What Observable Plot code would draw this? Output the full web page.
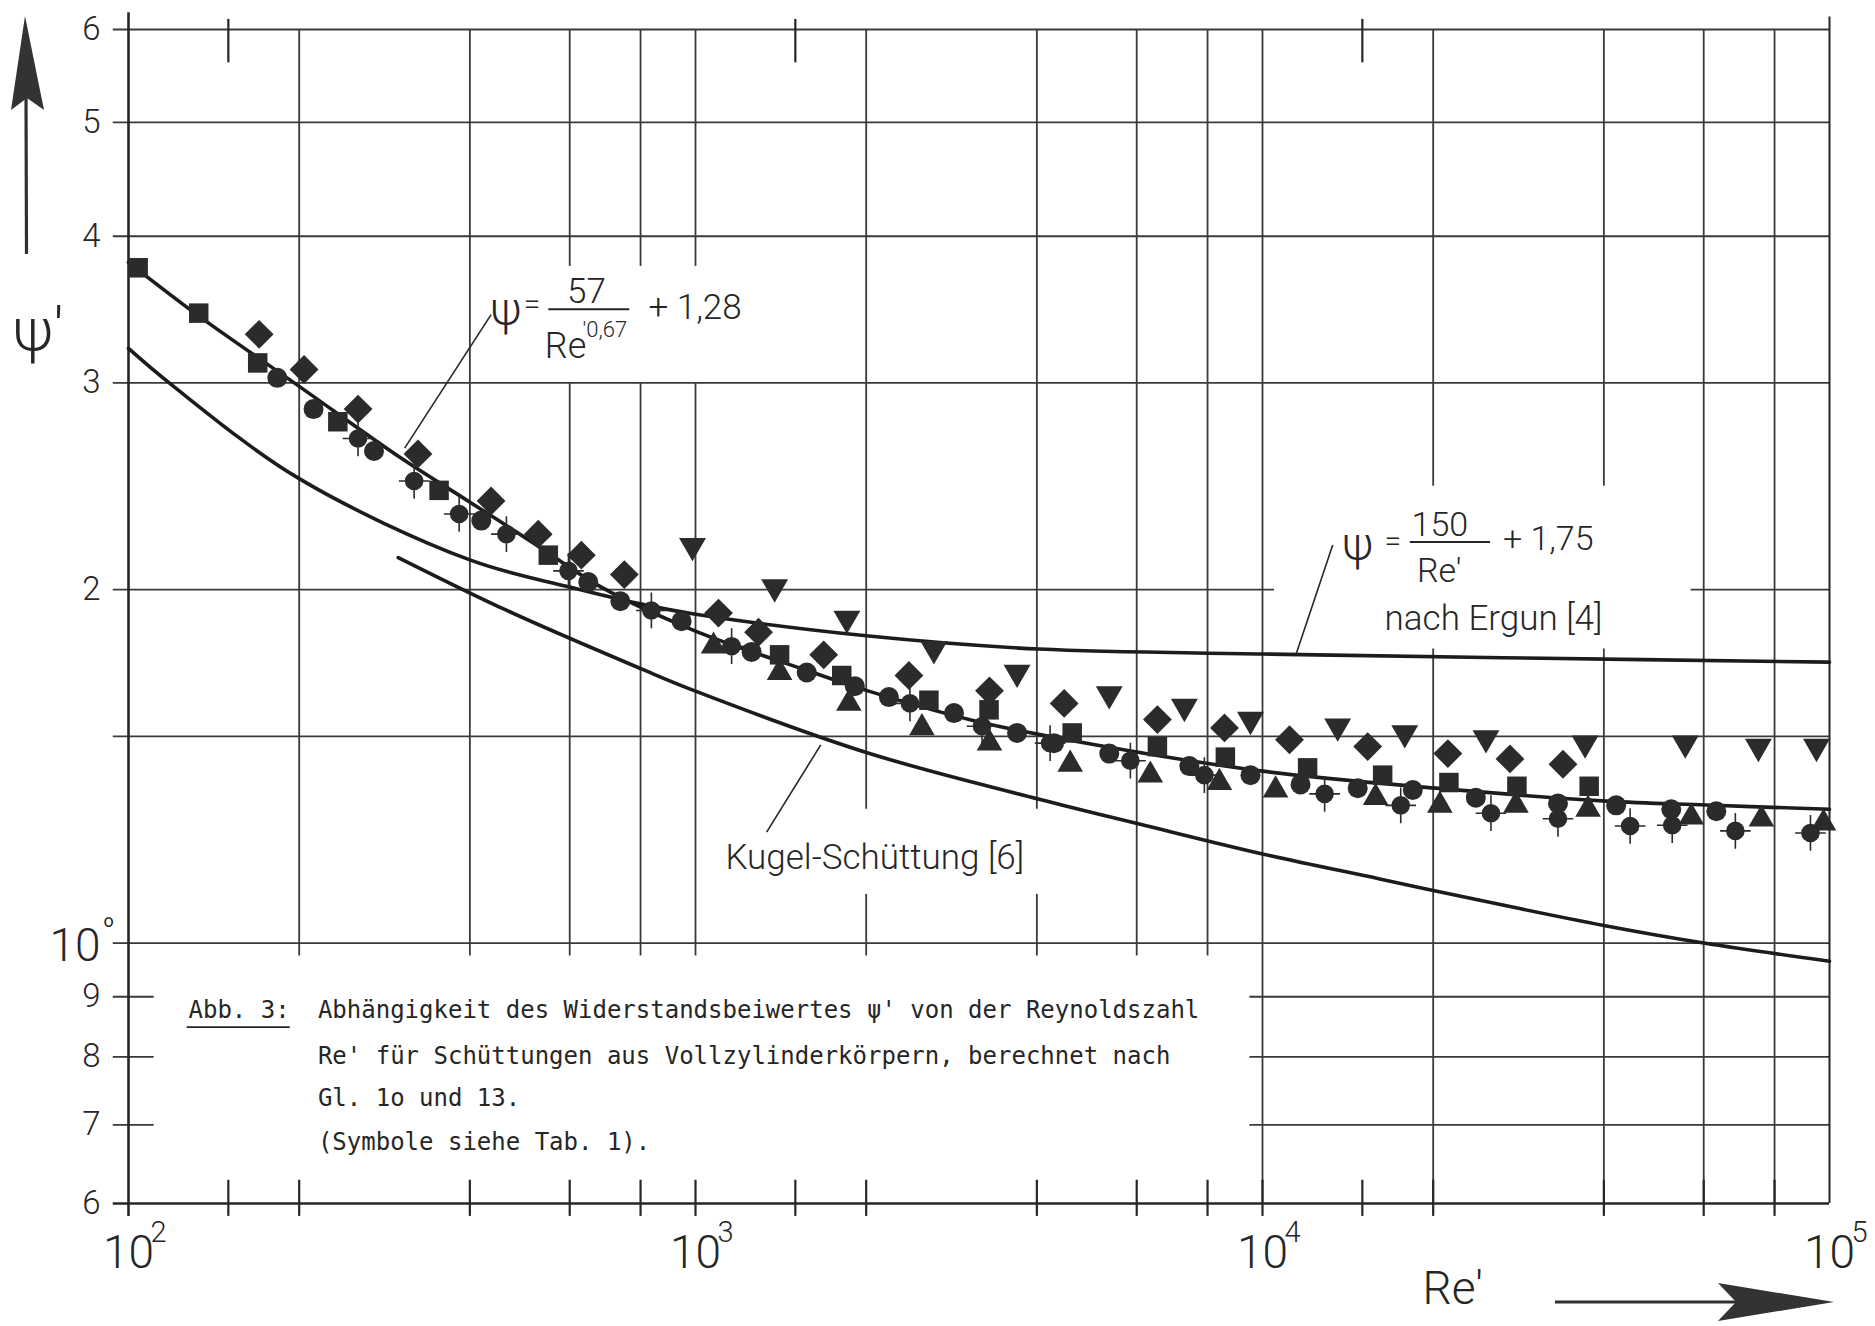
<!DOCTYPE html>
<html>
<head>
<meta charset="utf-8">
<script src="https://cdn.jsdelivr.net/npm/d3@7"></script>
<script src="https://cdn.jsdelivr.net/npm/@observablehq/plot@0.6"></script>
<style>
  html, body { margin: 0; padding: 0; background: #fff; }
  #chart { width: 1875px; height: 1326px; overflow: hidden; }
</style>
</head>
<body>
<div id="chart"></div>
<script>
// ---------------- data: [Re', psi'] ----------------
const squares = [[104,3.76],[133,3.44],[169,3.12],[234,2.78],[353,2.43],[550,2.14],[1407,1.76],[1811,1.69],[2580,1.61],[3294,1.58],[4617,1.51],[6526,1.47],[8600,1.44],[12010,1.41],[16290,1.39],[21320,1.37],[28100,1.36],[37680,1.36]];
const diamonds = [[170,3.30],[204,3.08],[254,2.85],[324,2.61],[436,2.38],[528,2.23],[629,2.14],[749,2.06],[1098,1.91],[1292,1.84],[1683,1.76],[2379,1.69],[3300,1.64],[4469,1.60],[6526,1.55],[8569,1.525],[11160,1.49],[15330,1.47],[21230,1.45],[27320,1.435],[33880,1.42]];
const trianglesDown = [[988,2.18],[1379,2.01],[1849,1.89],[2633,1.78],[3691,1.70],[5367,1.63],[7282,1.59],[9524,1.55],[13570,1.53],[17820,1.51],[24780,1.495],[37060,1.48],[55670,1.48],[74920,1.47],[94850,1.47]];
const trianglesUp = [[1076,1.79],[1407,1.70],[1864,1.60],[2508,1.525],[3300,1.48],[4580,1.42],[6341,1.39],[8395,1.37],[10545,1.35],[15830,1.33],[20550,1.31],[27990,1.31],[37510,1.30],[57050,1.28],[75840,1.275],[97590,1.265]];
const circles = [[183,3.03],[212,2.85],[271,2.625],[419,2.29],[647,2.03],[737,1.955],[945,1.88],[1256,1.77],[1571,1.70],[1910,1.655],[2193,1.62],[2857,1.57],[3691,1.51],[4290,1.48],[5367,1.45],[7430,1.415],[9524,1.39],[11670,1.365],[14720,1.355],[18410,1.35],[23780,1.33],[33200,1.315],[42050,1.31],[52590,1.30],[63160,1.295]];
const crossedCircles = [[254,2.69],[319,2.475],[383,2.32],[464,2.23],[597,2.075],[836,1.92],[1158,1.79],[2389,1.60],[3201,1.53],[4221,1.48],[5847,1.43],[7897,1.39],[12870,1.34],[17530,1.31],[25290,1.29],[33200,1.276],[44500,1.258],[52800,1.26],[68230,1.246],[92560,1.241]];

// curves as drawn in the figure
const fitCurve = [[100,3.80],[132,3.43],[198,2.99],[302,2.59],[397,2.38],[519,2.19],[682,2.01],[1000,1.844],[1583,1.705],[2021,1.639],[3111,1.546],[5007,1.477],[10000,1.401],[20220,1.355],[40360,1.321],[60640,1.311],[100000,1.30]];
const ergunCurve = [[100,3.21],[119,2.99],[199,2.49],[400,2.12],[600,2.01],[803,1.944],[1000,1.906],[2021,1.826],[4036,1.78],[10000,1.763],[26540,1.75],[100000,1.735]];
const kugelCurve = [[299,2.13],[467,1.918],[803,1.712],[1000,1.639],[2021,1.451],[4036,1.326],[6064,1.263],[10000,1.191],[16100,1.134],[23600,1.09],[40000,1.035],[60000,1.0],[100000,0.965]];

// axis ticks / labels
const yGridFull = [6, 5, 4, 3, 1.5, 1];
const yMinor = [0.9, 0.8, 0.7];
const yTickValues = [6, 5, 4, 3, 2, 0.9, 0.8, 0.7, 0.6];
const yTickLabels = ["6", "5", "4", "3", "2", "9", "8", "7", "6"];
const xDecades = [100, 1000, 10000, 100000];
const xExponents = ["2", "3", "4", "5"];
const bottomTicks = [150, 200, 400, 600, 800, 1000, 1500, 2000, 4000, 6000, 8000, 10000, 15000, 20000, 40000, 60000, 80000];
const topTicks = [150, 1500, 15000];
// vertical grid segments [Re, psiLow, psiHigh]
const vGrid = [[200,0.975,6],[400,0.975,6],[600,0.975,3.0],[600,3.77,6],[800,0.975,3.0],[800,3.77,6],[1000,0.975,3.0],[1000,3.77,6],
  [2000,1.3,6],[4000,1.3,6],[2000,0.975,1.1],[4000,0.975,1.1],[6000,0.975,6],[8000,0.975,6],
  [10000,0.6,6],[20000,0.6,1.78],[20000,2.45,6],[40000,0.6,1.78],[40000,2.45,6],[60000,0.6,6],[80000,0.6,6]];

const captionLines = [
  "Abhängigkeit des Widerstandsbeiwertes ψ' von der Reynoldszahl",
  "Re' für Schüttungen aus Vollzylinderkörpern, berechnet nach",
  "Gl. 1o und 13.",
  "(Symbole siehe Tab. 1)."
];
const captionPsi = [0.877, 0.801, 0.738, 0.677];

// ---------------- layout ----------------
const W = 1875, H = 1326;
const ink = "#262626";
const gridInk = "#3a3a3a";
const sans = "Roboto, 'DejaVu Sans', sans-serif";
const mono = "'DejaVu Sans Mono', 'Liberation Mono', monospace";

const pts = arr => arr.map(([re, psi]) => ({re, psi}));
const sqrt3 = Math.sqrt(3);
const triangleDown = {
  draw(ctx, size) {
    const y = Math.sqrt(size / (sqrt3 * 3));
    ctx.moveTo(0, 2 * y);
    ctx.lineTo(sqrt3 * y, -y);
    ctx.lineTo(-sqrt3 * y, -y);
    ctx.closePath();
  }
};
const crossCircle = {
  draw(ctx, size) {
    const r = Math.sqrt(size / Math.PI);
    ctx.moveTo(r, 0);
    ctx.arc(0, 0, r, 0, 2 * Math.PI);
    ctx.closePath();
    ctx.moveTo(-1.8 * r, 0); ctx.lineTo(1.8 * r, 0);
    ctx.moveTo(0, -2.1 * r); ctx.lineTo(0, 2.1 * r);
  }
};

const vSeg = vGrid.map(([re, lo, hi]) => ({re, lo, hi}));
const yLabels = yTickValues.map((psi, i) => ({psi, label: yTickLabels[i]}));
const xLabels = xDecades.map((re, i) => ({re, exp: xExponents[i]}));
const caption = captionLines.map((t, i) => ({t, psi: captionPsi[i]}));

const formulaMid = [
  {re: 463, psi: 3.46, t: "ψ", s: 46},
  {re: 515, psi: 3.50, t: "=", s: 30},
  {re: 642, psi: 3.585, t: "57", s: 35},
  {re: 590, psi: 3.22, t: "Re", s: 36},
  {re: 14720, psi: 2.18, t: "ψ", s: 46},
  {re: 16970, psi: 2.20, t: "=", s: 30},
  {re: 20550, psi: 2.27, t: "150", s: 34},
  {re: 20500, psi: 2.075, t: "Re′", s: 34}
];
const formulaStart = [
  {re: 632, psi: 3.33, t: "′0,67", s: 22},
  {re: 826, psi: 3.475, t: "+ 1,28", s: 35},
  {re: 26550, psi: 2.21, t: "+ 1,75", s: 34},
  {re: 16420, psi: 1.888, t: "nach Ergun [4]", s: 35},
  {re: 1129, psi: 1.181, t: "Kugel-Schüttung [6]", s: 35}
];
const links = [
  {x1: 436, y1: 3.43, x2: 307, y2: 2.64, w: 1.6},
  {x1: 13300, y1: 2.183, x2: 11480, y2: 1.766, w: 1.6},
  {x1: 1663, y1: 1.475, x2: 1335, y2: 1.243, w: 1.6},
  {x1: 550, y1: 3.467, x2: 764, y2: 3.467, w: 2},
  {x1: 18190, y1: 2.196, x2: 25190, y2: 2.196, w: 2},
  {x1: 126.6, y1: 0.848, x2: 192.5, y2: 0.848, w: 1.6}
];

const dotBase = {x: "re", y: "psi", fill: "#2b2b2b"};
const textBase = {lineAnchor: "middle", fontFamily: sans, fontWeight: 300, fill: ink};

const chart = Plot.plot({
  width: W, height: H,
  marginLeft: 128, marginRight: 46, marginTop: 29, marginBottom: 123,
  x: {type: "log", domain: [100, 1e5], axis: null},
  y: {type: "log", domain: [0.6, 6], axis: null},
  style: {background: "white", color: ink, overflow: "visible"},
  marks: [
    // grid
    Plot.ruleY(yGridFull, {x1: () => 94, x2: () => 1e5, stroke: gridInk, strokeWidth: 1.8}),
    Plot.ruleY([2], {x1: () => 94, x2: () => 10500, stroke: gridInk, strokeWidth: 1.8}),
    Plot.ruleY([2], {x1: () => 57000, x2: () => 1e5, stroke: gridInk, strokeWidth: 1.8}),
    Plot.ruleY(yMinor, {x1: () => 94, x2: () => 111, stroke: gridInk, strokeWidth: 1.8}),
    Plot.ruleY(yMinor, {x1: () => 9500, x2: () => 1e5, stroke: gridInk, strokeWidth: 1.8}),
    Plot.ruleY([0.6], {x1: () => 94, x2: () => 1e5, stroke: ink, strokeWidth: 2.4}),
    Plot.ruleX(vSeg, {x: "re", y1: "lo", y2: "hi", stroke: gridInk, strokeWidth: 1.8}),
    Plot.ruleX(bottomTicks, {y1: () => 0.585, y2: () => 0.628, stroke: ink, strokeWidth: 2.2}),
    Plot.ruleX(topTicks, {y1: () => 5.62, y2: () => 6.12, stroke: ink, strokeWidth: 2.2}),
    Plot.ruleX([100], {y1: () => 0.585, y2: () => 6.2, stroke: ink, strokeWidth: 2.6}),
    Plot.ruleX([1e5], {y1: () => 0.6, y2: () => 6.15, stroke: ink, strokeWidth: 2}),
    // curves
    Plot.line(pts(ergunCurve), {x: "re", y: "psi", curve: "catmull-rom", stroke: "#1c1c1c", strokeWidth: 3.6}),
    Plot.line(pts(kugelCurve), {x: "re", y: "psi", curve: "catmull-rom", stroke: "#1c1c1c", strokeWidth: 3.6}),
    Plot.line(pts(fitCurve), {x: "re", y: "psi", curve: "catmull-rom", stroke: "#1c1c1c", strokeWidth: 3.6}),
    // annotation lines
    Plot.link(links, {x1: "x1", y1: "y1", x2: "x2", y2: "y2", stroke: ink, strokeWidth: "w"}),
    // data points
    Plot.dot(pts(squares), {...dotBase, symbol: "square", r: 11}),
    Plot.dot(pts(diamonds), {...dotBase, symbol: "diamond2", r: 13}),
    Plot.dot(pts(circles), {...dotBase, symbol: "circle", r: 10}),
    Plot.dot(pts(trianglesUp), {...dotBase, symbol: "triangle", r: 9.5}),
    Plot.dot(pts(trianglesDown), {...dotBase, symbol: triangleDown, r: 10}),
    Plot.dot(pts(crossedCircles), {...dotBase, symbol: crossCircle, r: 8.5, stroke: "#2b2b2b", strokeWidth: 1.6}),
    // y tick labels
    Plot.text(yLabels, {...textBase, x: () => 100, y: "psi", text: "label", dx: -28, textAnchor: "end", fontSize: 33}),
    Plot.text([{psi: 1}], {...textBase, x: () => 100, y: "psi", text: () => "10", dx: -28, dy: 3, textAnchor: "end", fontSize: 46}),
    Plot.text([{psi: 1}], {...textBase, x: () => 100, y: "psi", text: () => "o", dx: -20, dy: -22, textAnchor: "middle", fontSize: 18, fontWeight: 400}),
    // x tick labels
    Plot.text(xLabels, {...textBase, x: "re", y: () => 0.6, text: () => "10", dy: 50, textAnchor: "middle", fontSize: 46}),
    Plot.text(xLabels, {...textBase, x: "re", y: () => 0.6, text: "exp", dx: 30, dy: 29, textAnchor: "middle", fontSize: 29}),
    // axis titles
    Plot.text([{re: 69.3, psi: 3.32}], {...textBase, x: "re", y: "psi", text: () => "ψ′", textAnchor: "middle", fontSize: 60}),
    Plot.text([{re: 21660, psi: 0.507}], {...textBase, x: "re", y: "psi", text: () => "Re′", textAnchor: "middle", fontSize: 46}),
    // formulas & labels
    Plot.text(formulaMid, {...textBase, x: "re", y: "psi", text: "t", fontSize: "s", textAnchor: "middle"}),
    Plot.text(formulaStart, {...textBase, x: "re", y: "psi", text: "t", fontSize: "s", textAnchor: "start"}),
    // caption inside the chart
    Plot.text([{re: 127.6, psi: 0.877}], {x: "re", y: "psi", text: () => "Abb. 3:", textAnchor: "start", lineAnchor: "middle", fontSize: 24, fontFamily: mono, fill: ink}),
    Plot.text(caption, {x: () => 215.8, y: "psi", text: "t", textAnchor: "start", lineAnchor: "middle", fontSize: 24, fontFamily: mono, fill: ink})
  ]
});

document.getElementById("chart").appendChild(chart);

// decorative axis arrows
const svg = d3.select(chart);
svg.append("path").attr("d", "M26.5,254 L26,96").attr("stroke", "#303030").attr("stroke-width", 3.2).attr("fill", "none");
svg.append("path").attr("d", "M25,16 L44,110 L27,98 L11,110 Z").attr("fill", "#333");
svg.append("path").attr("d", "M1555,1302 L1745,1302").attr("stroke", "#303030").attr("stroke-width", 3.2).attr("fill", "none");
svg.append("path").attr("d", "M1834,1302 L1718,1283 L1736,1302 L1718,1321 Z").attr("fill", "#333");
</script>
</body>
</html>
